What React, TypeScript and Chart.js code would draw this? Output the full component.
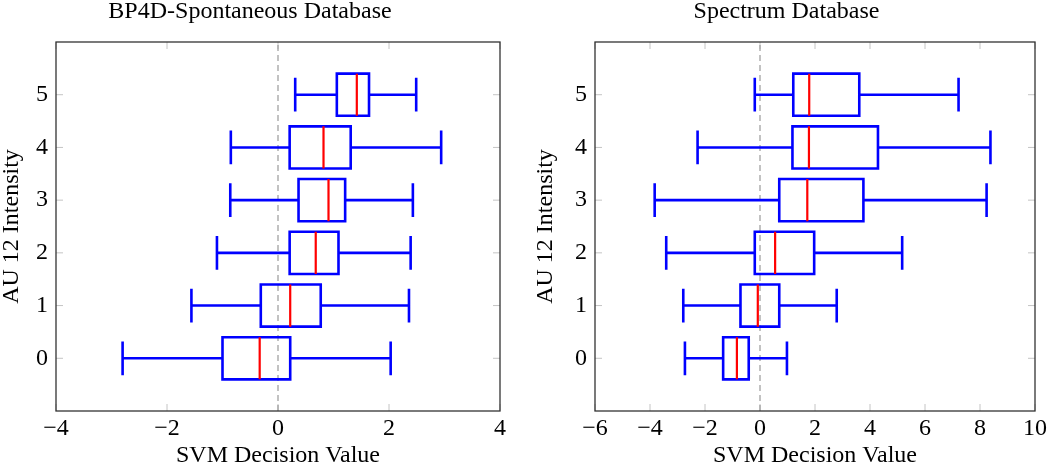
import React, { useEffect, useRef } from 'react';
import { Chart, registerables } from 'chart.js';

Chart.register(...registerables);

// ---------- data ----------
const intensities = [0, 1, 2, 3, 4, 5];
const yTickValues = [0, 1, 2, 3, 4, 5];

const bp4dTitle = 'BP4D-Spontaneous Database';
const bp4dMin = [-2.8, -1.56, -1.1, -0.86, -0.85, 0.31];
const bp4dQ1 = [-1.0, -0.31, 0.21, 0.37, 0.21, 1.06];
const bp4dMedian = [-0.33, 0.22, 0.68, 0.91, 0.82, 1.42];
const bp4dQ3 = [0.22, 0.77, 1.09, 1.21, 1.31, 1.64];
const bp4dMax = [2.03, 2.36, 2.39, 2.43, 2.94, 2.49];
const bp4dXTicks = [-4, -2, 0, 2, 4];

const specTitle = 'Spectrum Database';
const specMin = [-2.73, -2.79, -3.41, -3.83, -2.27, -0.19];
const specQ1 = [-1.34, -0.71, -0.19, 0.7, 1.18, 1.21];
const specMedian = [-0.84, -0.08, 0.55, 1.72, 1.78, 1.79];
const specQ3 = [-0.41, 0.7, 1.97, 3.76, 4.29, 3.61];
const specMax = [0.98, 2.79, 5.17, 8.24, 8.38, 7.22];
const specXTicks = [-6, -4, -2, 0, 2, 4, 6, 8, 10];

const xAxisTitle = 'SVM Decision Value';
const yAxisTitle = 'AU 12 Intensity';

// ---------- style ----------
const FONT = "'Liberation Serif', 'Times New Roman', serif";
const FS = 24;
const BOX_HALF = 0.4;
const CAP_HALF = 0.32;
const BLUE = '#0000ff';
const RED = '#ff0000';

const gap = () => ({ x: NaN, y: NaN });

function buildDatasets(mins: number[], q1s: number[], meds: number[], q3s: number[], maxs: number[], yMin: number, yMax: number) {
  const boxes: any[] = [];
  const whiskers: any[] = [];
  const medians: any[] = [];
  intensities.forEach((y, i) => {
    boxes.push(
      { x: q1s[i], y },
      { x: q1s[i], y: y - BOX_HALF },
      { x: q3s[i], y: y - BOX_HALF },
      { x: q3s[i], y: y + BOX_HALF },
      { x: q1s[i], y: y + BOX_HALF },
      { x: q1s[i], y },
      gap()
    );
    whiskers.push(
      { x: mins[i], y }, { x: q1s[i], y }, gap(),
      { x: q3s[i], y }, { x: maxs[i], y }, gap(),
      { x: mins[i], y: y - CAP_HALF }, { x: mins[i], y: y + CAP_HALF }, gap(),
      { x: maxs[i], y: y - CAP_HALF }, { x: maxs[i], y: y + CAP_HALF }, gap()
    );
    medians.push({ x: meds[i], y: y - BOX_HALF }, { x: meds[i], y: y + BOX_HALF }, gap());
  });
  const common = { showLine: true, pointRadius: 0, spanGaps: false, fill: false, borderCapStyle: 'butt', borderJoinStyle: 'miter' };
  return [
    { ...common, data: [{ x: 0, y: yMin }, { x: 0, y: yMax }], borderColor: '#9a9a9a', borderWidth: 1.2, borderDash: [6, 4], order: 4 },
    { ...common, data: whiskers, borderColor: BLUE, borderWidth: 2.6, order: 3 },
    { ...common, data: boxes, borderColor: BLUE, borderWidth: 2.6, order: 2 },
    { ...common, data: medians, borderColor: RED, borderWidth: 2.2, order: 1 },
  ];
}

const fmt = (v: number) => (v < 0 ? '\u2212' + Math.abs(v) : String(v));

const ticksPlugin = {
  id: 'insideTicks',
  beforeDatasetsDraw(chart: any) {
    const { ctx, chartArea: a, scales } = chart;
    const L = 7;
    ctx.save();
    ctx.strokeStyle = '#c4c4c4';
    ctx.lineWidth = 1;
    ctx.beginPath();
    scales.x.ticks.forEach((t: any) => {
      const px = scales.x.getPixelForValue(t.value);
      ctx.moveTo(px, a.bottom); ctx.lineTo(px, a.bottom - L);
      ctx.moveTo(px, a.top); ctx.lineTo(px, a.top + L);
    });
    scales.y.ticks.forEach((t: any) => {
      const py = scales.y.getPixelForValue(t.value);
      ctx.moveTo(a.left, py); ctx.lineTo(a.left + L, py);
      ctx.moveTo(a.right, py); ctx.lineTo(a.right - L, py);
    });
    ctx.stroke();
    ctx.restore();
  },
  afterDraw(chart: any) {
    const { ctx, chartArea: a } = chart;
    ctx.save();
    ctx.strokeStyle = '#333';
    ctx.lineWidth = 1.3;
    ctx.strokeRect(a.left, a.top, a.right - a.left, a.bottom - a.top);
    ctx.restore();
  },
};

type PanelProps = {
  left: number;
  title: string;
  mins: number[]; q1s: number[]; meds: number[]; q3s: number[]; maxs: number[];
  xTicks: number[];
  padLeft: number; padRight: number; yAxisWidth: number;
};

function Panel(p: PanelProps) {
  const ref = useRef<HTMLCanvasElement | null>(null);
  useEffect(() => {
    if (!ref.current) return;
    const xMin = p.xTicks[0];
    const xMax = p.xTicks[p.xTicks.length - 1];
    const chart = new Chart(ref.current, {
      type: 'scatter',
      data: { datasets: buildDatasets(p.mins, p.q1s, p.meds, p.q3s, p.maxs, -1, 6) as any },
      options: {
        animation: false,
        responsive: false,
        events: [],
        layout: { padding: { left: p.padLeft, right: p.padRight, top: 0, bottom: 0 } },
        plugins: {
          legend: { display: false },
          tooltip: { enabled: false },
          title: {
            display: true,
            text: p.title,
            color: '#000',
            font: { family: FONT, size: FS, weight: 'normal', lineHeight: 1 },
            padding: { top: 0, bottom: 18 },
          },
        },
        scales: {
          x: {
            type: 'linear',
            min: xMin,
            max: xMax,
            afterBuildTicks: (s: any) => { s.ticks = p.xTicks.map((v) => ({ value: v })); },
            afterFit: (s: any) => { s.height = 57; },
            grid: { display: false, drawTicks: false },
            border: { display: false },
            ticks: { padding: 3, color: '#000', font: { family: FONT, size: FS }, callback: (v: any) => fmt(Number(v)) },
            title: { display: true, text: xAxisTitle, color: '#000', font: { family: FONT, size: FS, lineHeight: 1 }, padding: 0 },
          },
          y: {
            type: 'linear',
            min: -1,
            max: 6,
            afterBuildTicks: (s: any) => { s.ticks = yTickValues.map((v) => ({ value: v })); },
            afterFit: (s: any) => { s.width = p.yAxisWidth; },
            grid: { display: false, drawTicks: false },
            border: { display: false },
            ticks: { padding: 8, color: '#000', font: { family: FONT, size: FS }, callback: (v: any) => fmt(Number(v)) },
            title: { display: true, text: yAxisTitle, color: '#000', font: { family: FONT, size: FS, lineHeight: 1 }, padding: 0 },
          },
        },
      } as any,
      plugins: [ticksPlugin],
    });
    return () => chart.destroy();
  }, []);
  return (
    <canvas
      ref={ref}
      width={525}
      height={468}
      style={{ position: 'absolute', left: p.left, top: 0, width: 525, height: 468 }}
    />
  );
}

export default function App() {
  return (
    <div style={{ position: 'fixed', left: 0, top: 0, width: 1050, height: 468, background: '#fff' }}>
      <Panel
        left={0}
        title={bp4dTitle}
        mins={bp4dMin} q1s={bp4dQ1} meds={bp4dMedian} q3s={bp4dQ3} maxs={bp4dMax}
        xTicks={bp4dXTicks}
        padLeft={0} padRight={25} yAxisWidth={56}
      />
      <Panel
        left={525}
        title={specTitle}
        mins={specMin} q1s={specQ1} meds={specMedian} q3s={specQ3} maxs={specMax}
        xTicks={specXTicks}
        padLeft={9} padRight={11} yAxisWidth={61}
      />
    </div>
  );
}
